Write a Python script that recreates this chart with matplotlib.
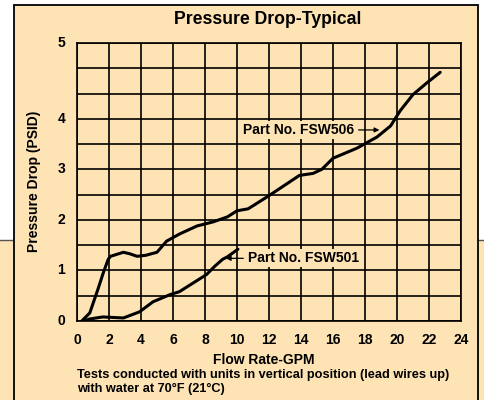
import matplotlib
matplotlib.use('Agg')
import matplotlib.pyplot as plt
from matplotlib.patches import Rectangle
from matplotlib.lines import Line2D

plt.rcParams['font.family'] = ['Liberation Sans', 'DejaVu Sans']
plt.rcParams['font.weight'] = 'bold'

# flow rate (GPM) and pressure drop
# (axis units: 0..4 are linear, the top label "5" sits at 5.5)
fsw506_gpm = [0.3, 0.8, 1.3, 1.65, 1.95, 2.1, 2.9, 3.3, 3.75, 4.3, 5.0, 5.6, 6.4,
              7.5, 8.5, 9.4, 10.0, 10.7, 12.0, 13.9, 14.75, 15.3, 16.0, 17.5,
              18.75, 19.6, 20.2, 21.0, 21.9, 22.7]
fsw506_psid = [0.0, 0.16, 0.62, 0.96, 1.22, 1.28, 1.36, 1.33, 1.28, 1.3, 1.36, 1.58, 1.72,
               1.88, 1.96, 2.06, 2.18, 2.22, 2.48, 2.88, 2.92, 3.0, 3.22, 3.42,
               3.64, 3.86, 4.16, 4.48, 4.72, 4.92]

fsw501_gpm = [0.4, 0.8, 1.6, 2.9, 3.9, 4.75, 5.8, 6.4, 7.3, 8.1, 8.6, 9.1, 9.4, 10.06]
fsw501_psid = [0.0, 0.04, 0.08, 0.06, 0.18, 0.38, 0.52, 0.58, 0.76, 0.92, 1.08, 1.22, 1.27, 1.42]

x_ticks = list(range(0, 25, 2))
y_ticks = [0, 1, 2, 3, 4, 5.5]
y_labels = ['0', '1', '2', '3', '4', '5']

peach = '#fee3b5'
W, H = 484, 400

fig = plt.figure(figsize=(4.84, 4.0), dpi=100)
fig.patch.set_facecolor('white')

# background band and boxed panel
fig.patches.append(Rectangle((0, 0), 1, 160 / H, transform=fig.transFigure,
                             facecolor=peach, edgecolor='none', zorder=0))
fig.lines.append(Line2D([0, 14 / W], [160 / H, 160 / H], transform=fig.transFigure,
                        color='#555555', lw=1, zorder=1))
fig.lines.append(Line2D([478 / W, 1], [160 / H, 160 / H], transform=fig.transFigure,
                        color='#555555', lw=1, zorder=1))
fig.patches.append(Rectangle((14 / W, -0.05), 464 / W, 1.05 - 5 / H,
                             transform=fig.transFigure, facecolor=peach,
                             edgecolor='black', lw=1.3, zorder=2))

ax = fig.add_axes([77 / W, 1 - 321 / H, 384 / W, 278 / H])
ax.set_facecolor(peach)
ax.set_zorder(3)
ax.set_xlim(0, 24)
ax.set_ylim(0, 5.5)
ax.set_xticks([])
ax.set_yticks([])

for gx in x_ticks:
    ax.axvline(gx, color='black', lw=1.2, zorder=1)
for i in range(12):
    ax.axhline(i * 0.5, color='black', lw=1.2, zorder=1)
for s in ax.spines.values():
    s.set_linewidth(1.2)

for gx in x_ticks:
    ax.text(gx, -0.24, str(gx), ha='center', va='top', fontsize=10, fontweight='bold')
for gy, lab in zip(y_ticks, y_labels):
    ax.text(-0.75, gy, lab, ha='right', va='center', fontsize=10, fontweight='bold')

ax.plot(fsw506_gpm, fsw506_psid, color='black', lw=2.2, zorder=3,
        solid_capstyle='round', solid_joinstyle='round')
ax.plot(fsw501_gpm, fsw501_psid, color='black', lw=2.2, zorder=3,
        solid_capstyle='round', solid_joinstyle='round')

label_box = dict(boxstyle='square,pad=0.15', facecolor=peach, edgecolor='none')
ax.annotate('Part No. FSW506', xy=(18.9, 3.78), xytext=(17.3, 3.78),
            ha='right', va='center', fontsize=10, fontweight='bold', zorder=4,
            bbox=label_box,
            arrowprops=dict(arrowstyle='-|>', color='black', lw=0.9,
                            mutation_scale=7, shrinkA=2, shrinkB=0))
ax.annotate('Part No. FSW501', xy=(9.3, 1.24), xytext=(10.7, 1.24),
            ha='left', va='center', fontsize=10, fontweight='bold', zorder=4,
            bbox=label_box,
            arrowprops=dict(arrowstyle='-|>', color='black', lw=0.9,
                            mutation_scale=7, shrinkA=2, shrinkB=0))

fig.text(268 / W, 1 - 20 / H, 'Pressure Drop-Typical', ha='center', va='center',
         fontsize=12.7, fontweight='bold')
fig.text(264 / W, 1 - 360 / H, 'Flow Rate-GPM', ha='center', va='center',
         fontsize=10, fontweight='bold')
fig.text(34 / W, 1 - 181 / H, 'Pressure Drop (PSID)', ha='center', va='center',
         rotation=90, fontsize=10, fontweight='bold')
fig.text(77 / W, 1 - 375 / H,
         'Tests conducted with units in vertical position (lead wires up)',
         ha='left', va='center', fontsize=9.2, fontweight='bold')
fig.text(77 / W, 1 - 389 / H, 'with water at 70°F (21°C)',
         ha='left', va='center', fontsize=9.2, fontweight='bold')

fig.savefig('out.png', dpi=100)
